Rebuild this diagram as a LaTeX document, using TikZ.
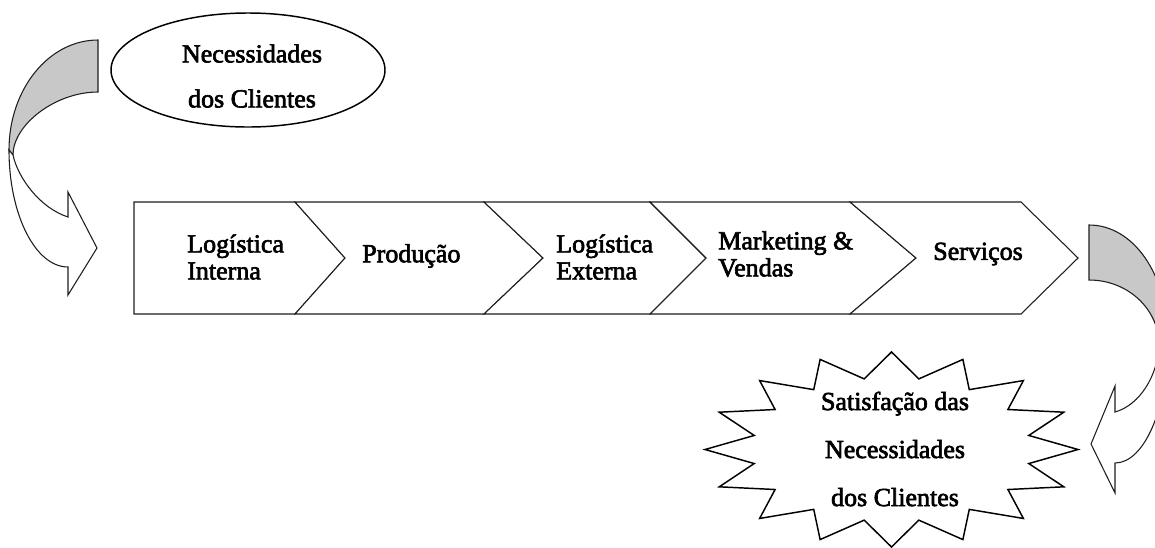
\documentclass[tikz,border=0pt]{standalone}
\usepackage{fontspec}
\setmainfont{Liberation Serif}[FakeBold=2.5]
\usetikzlibrary{shapes.geometric}
\definecolor{bandgray}{RGB}{200,200,200}
\definecolor{edge}{RGB}{30,30,30}
\begin{document}
\begin{tikzpicture}[x=0.75pt,y=-0.75pt,
  stage/.style={draw=edge, line width=0.8pt, fill=white, line join=miter},
  band/.style={draw=edge, line width=0.8pt, line join=miter},
  lbl/.style={font=\fontsize{19.5}{20.25}\selectfont, inner sep=0pt, align=left, anchor=west},
  ctr/.style={font=\fontsize{19.5}{20.25}\selectfont, inner sep=0pt, align=center},
  burst/.style={draw=black, line width=1.1pt, fill=white, line join=miter}]
\useasboundingbox (0,0) rectangle (1155,547);

% curved arrow bringing the customer needs into the chain
\draw[band, fill=bandgray] (98,40) .. controls (48.8,40) and (9,89.2) .. (9,150)
  -- (13,155) .. controls (13,125) and (55,92) .. (98,92) -- cycle;
\draw[band, fill=white] (9,150) .. controls (9,214.6) and (35.4,267) .. (68,267)
  -- (68,295) -- (97,248) -- (68,192) -- (68,217)
  .. controls (40,208) and (18,178) .. (13,155) -- cycle;

% customer needs
\node[ellipse, draw=black, line width=1.1pt, minimum width=205.5pt, minimum height=85.5pt, inner sep=0pt] (needs) at (248,70) {};
\node[ctr, font=\fontsize{19.5}{33.75}\selectfont] (needstext) at (252,76) {Necessidades\\dos Clientes};

% value chain stages
\draw[stage] (134,202) -- (295,202) -- (345,258) -- (295,314) -- (134,314) -- cycle;
\draw[stage] (295,202) -- (484,202) -- (543,258) -- (484,314) -- (295,314) -- (345,258) -- cycle;
\draw[stage] (484,202) -- (650,202) -- (706,258) -- (650,314) -- (484,314) -- (543,258) -- cycle;
\draw[stage] (650,202) -- (850,202) -- (916,258) -- (850,314) -- (650,314) -- (706,258) -- cycle;
\draw[stage] (850,202) -- (1021,202) -- (1078,258) -- (1021,314) -- (850,314) -- (916,258) -- cycle;

\node[lbl] (inbound) at (187,257) {Logística\\Interna};
\node[lbl] (operations) at (362,256) {Produção};
\node[lbl] (outbound) at (556,257) {Logística\\Externa};
\node[lbl] (marketing) at (718,254) {Marketing \&\\Vendas};
\node[lbl] (service) at (933,254) {Serviços};

% curved arrow leading out to satisfaction
\begin{scope}
\clip (0,0) rectangle (1155,547);
\draw[band, fill=bandgray] (1089,225) .. controls (1133.2,225) and (1168,274.2) .. (1168,340)
  -- (1159,345) .. controls (1159,309.1) and (1127.7,280) .. (1089,280) -- cycle;
\draw[band, fill=white] (1168,340) .. controls (1168,408) and (1144.3,463) .. (1115,463)
  -- (1115,493) -- (1091,444) -- (1115,386) -- (1115,412)
  .. controls (1140,405) and (1158,375) .. (1159,345) -- cycle;
\end{scope}

% satisfaction burst
\draw[burst] plot[samples at={0,...,31}, variable=\k]
  ({891.5+ifthenelse(mod(\k,2)==0,186.5,140)*cos(\k*11.25)},
   {449.5-ifthenelse(mod(\k,2)==0,97.5,72)*sin(\k*11.25)}) -- cycle;
\node[ctr, font=\fontsize{19.5}{36}\selectfont] (satisfaction) at (895,449) {Satisfação das\\Necessidades\\dos Clientes};
\end{tikzpicture}
\end{document}
